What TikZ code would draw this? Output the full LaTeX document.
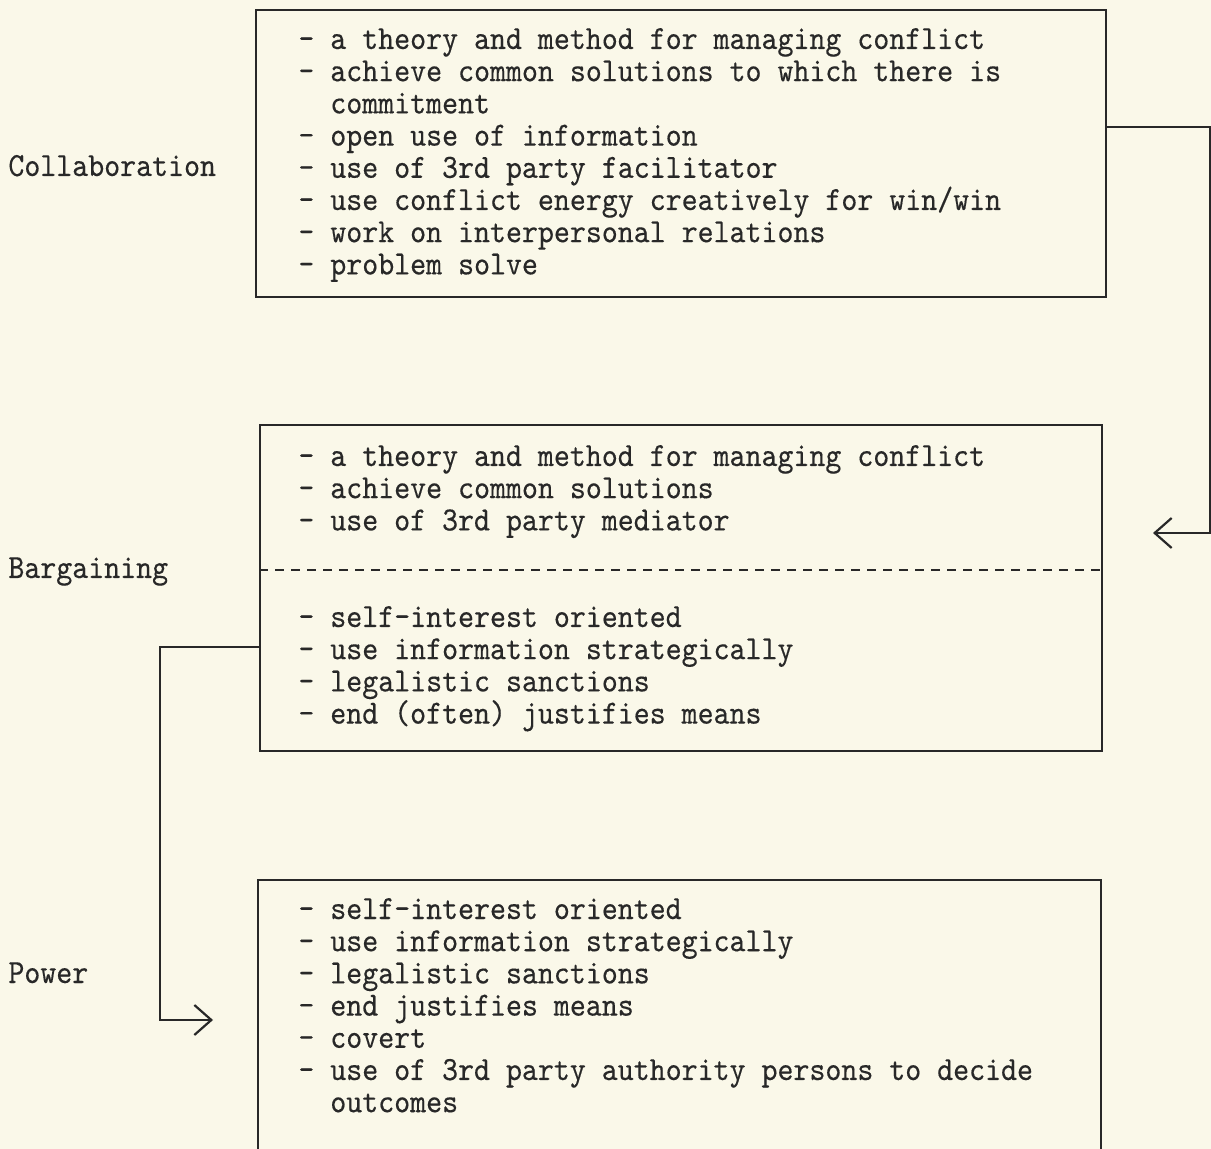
\documentclass[tikz,border=0pt]{standalone}
\usepackage{fontspec}
\setmonofont{lmmono10-regular.otf}[FakeStretch=0.9,FakeBold=0.3]
\usetikzlibrary{arrows.meta}
\definecolor{paper}{RGB}{250,248,233}
\definecolor{ink}{RGB}{40,40,40}
\tikzset{
  box/.style={draw=ink, line width=0.75pt, inner sep=0pt},
  items/.style={text=ink, font=\fontsize{16.9}{16.1}\selectfont\ttfamily, text width=420pt, anchor=base west, inner sep=0pt,
    execute at begin node={\spaceskip=7.985pt\relax\xspaceskip=7.985pt\relax}},
  side/.style={text=ink, font=\fontsize{16.9}{16.1}\selectfont\ttfamily, anchor=base west, inner sep=0pt},
  link/.style={draw=ink, line width=1.1pt, -{Straight Barb[length=8.5pt,width=15pt]}}
}
\begin{document}
\begin{tikzpicture}[x=0.5pt,y=-0.5pt]
            \fill[paper] (0,0) rectangle (1211,1149);
            \useasboundingbox (0,0) rectangle (1211,1149);

            % boxes
            \node[box, minimum width=425pt, minimum height=143.5pt] (collab) at (681,153.5) {};
            \node[box, minimum width=421pt, minimum height=163pt] (bargain) at (681,588) {};
            \node[box, minimum width=421.5pt, minimum height=140pt] (power) at (679.5,1020) {};
            \draw[ink, line width=0.75pt, dash pattern=on 4.5pt off 3.5pt] ([yshift=9pt]bargain.west) -- ([yshift=9pt]bargain.east);

            % names
            \node[side] (collabname) at (8,176) {Collaboration};
            \node[side] (bargainname) at (8,578) {Bargaining};
            \node[side] (powername) at (8,983) {Power};

            % items
            \node[items] (collabtext) at (298,49) {- a theory and method for managing conflict\\
              - achieve common solutions to which there is\\
              \phantom{- }commitment\\
              - open use of information\\
              - use of 3rd party facilitator\\
              - use conflict energy creatively for win/win\\
              - work on interpersonal relations\\
              - problem solve};
            \node[items] (bargaintop) at (298,466) {- a theory and method for managing conflict\\
              - achieve common solutions\\
              - use of 3rd party mediator};
            \node[items] (bargainlow) at (298,627) {- self-interest oriented\\
              - use information strategically\\
              - legalistic sanctions\\
              - end (often) justifies means};
            \node[items] (powertext) at (298,919) {- self-interest oriented\\
              - use information strategically\\
              - legalistic sanctions\\
              - end justifies means\\
              - covert\\
              - use of 3rd party authority persons to decide\\
              \phantom{- }outcomes};

            % connectors
            \coordinate (bargainin) at (1153,533);
            \coordinate (powerin) at (213,1020);
            \draw[link] ([yshift=13.25pt]collab.east) -- ++(103,0) |- (bargainin);
            \draw[link] ([yshift=-29.5pt]bargain.west) -- ++(-99,0) |- (powerin);
        \end{tikzpicture}
\end{document}
